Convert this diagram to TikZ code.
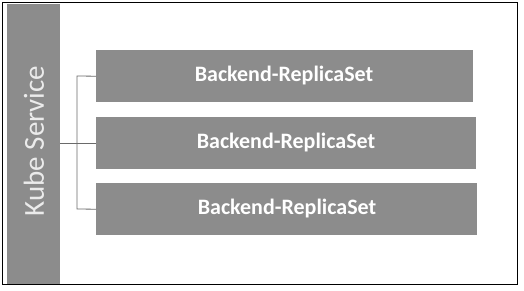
\documentclass[tikz,border=0pt]{standalone}
\usepackage{fontspec}
\setmainfont{Carlito}
\begin{document}
\begin{tikzpicture}[x=1pt,y=-1pt,
  rsbox/.style={fill=boxgray,draw=none,minimum height=52pt,inner sep=0pt},
  rstext/.style={text=white,font=\bfseries\fontsize{22}{26}\selectfont,inner sep=0pt},
  conn/.style={draw=linegray,line width=0.8pt}]
\definecolor{boxgray}{HTML}{8C8C8C}
\definecolor{linegray}{HTML}{6A6A6A}
\useasboundingbox (0,0) rectangle (524,290);
\draw[line width=1pt] (2.5,2.5) rectangle (517.5,284.5);
\node[fill=boxgray,minimum width=53pt,minimum height=280pt,inner sep=0pt,anchor=north west] (ks) at (7,4) {};
\node[rotate=90,text=white!92!black,font=\fontsize{29}{32}\selectfont,inner sep=0pt] (kst) at (34,141) {Kube Service};
\node[rsbox,minimum width=377pt,anchor=north west] (b1) at (96,50) {};
\node[rstext] (t1) at (284,76) {Backend-ReplicaSet};
\node[rsbox,minimum width=380pt,anchor=north west] (b2) at (96,117) {};
\node[rstext] (t2) at (286,143) {Backend-ReplicaSet};
\node[rsbox,minimum width=381pt,anchor=north west] (b3) at (96,183) {};
\node[rstext] (t3) at (287,209) {Backend-ReplicaSet};
\coordinate (j1) at (77,76);
\coordinate (j3) at (77,209);
\draw[conn] (b1.west) -- (j1) -- (j3) -- (b3.west);
\draw[conn] (ks.east |- b2.west) -- (b2.west);
\end{tikzpicture}
\end{document}
